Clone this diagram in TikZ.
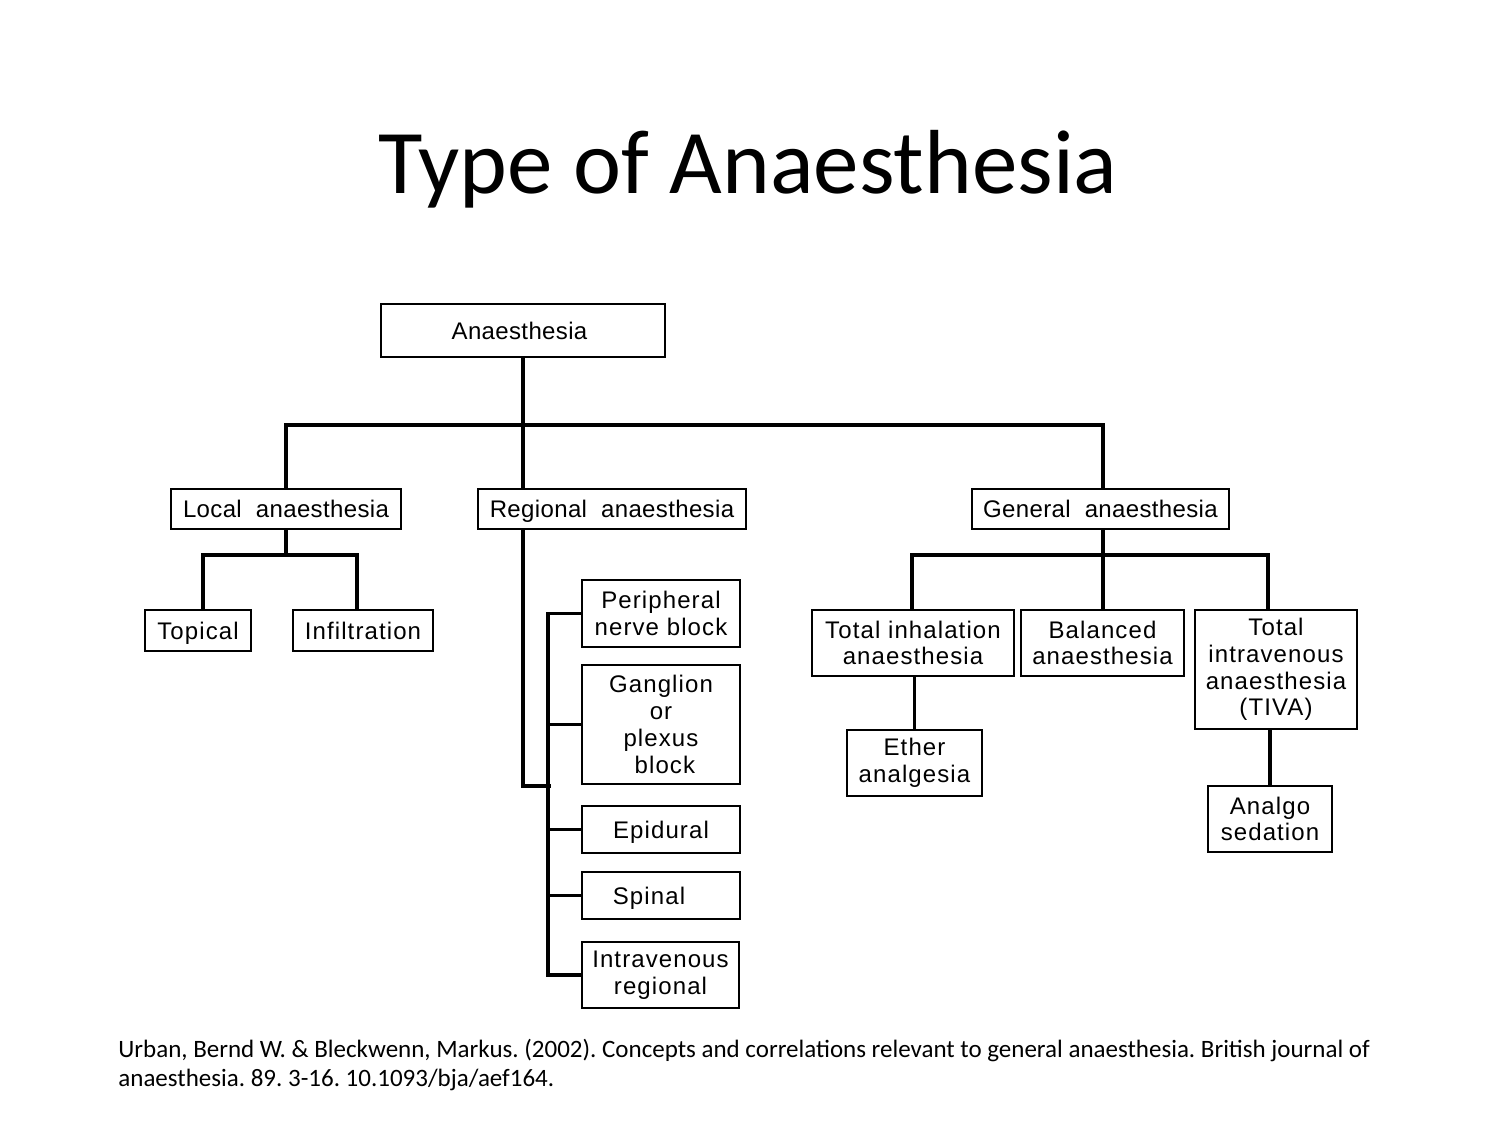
\documentclass[tikz,border=0pt]{standalone}
\usepackage{fontspec}
\setmainfont{Liberation Sans}
\newfontfamily\calib{Carlito}
\newfontfamily\boxfont[LetterSpace=4.6]{Liberation Sans}
\newfontfamily\headfont[LetterSpace=1.5]{Liberation Sans}
\begin{document}
\begin{tikzpicture}[x=0.5pt,y=-0.5pt,
  box/.style={draw=black, line width=1pt, fill=white, inner sep=0pt, align=center,
    font=\boxfont\fontsize{12}{13.4}\selectfont},
  head/.style={font=\headfont\fontsize{12}{13.4}\selectfont},
  single/.style={text height=9pt, text depth=0.4pt},
  conn/.style={draw=black, line width=1.6pt, line cap=rect}]
\useasboundingbox[fill=white] (0,0) rectangle (1500,1125);

% title and citation
\node[anchor=base, inner sep=0pt, font=\calib\fontsize{45.5}{50}\selectfont] (title) at (748,193) {Type of Anaesthesia};
\node[anchor=base west, inner sep=0pt, align=left, font=\calib\fontsize{12.5}{14.5}\selectfont] (cite) at (118,1086)
  {\frenchspacing Urban, Bernd W. \& Bleckwenn, Markus. (2002). Concepts and correlations relevant to general anaesthesia. British journal of\\
   \frenchspacing anaesthesia. 89. 3-16. 10.1093/bja/aef164.};

\coordinate (bar) at (523,425);
\coordinate (lbar) at (286,555);
\coordinate (gbar) at (1103,555);
\coordinate (rturn) at (523,786);

% boxes
\node[box, head, single, minimum width=142pt, minimum height=26.5pt] (anaes) at (523,330.5) {\hspace{-3.5pt}Anaesthesia};
\node[box, head, single, minimum width=115pt, minimum height=20pt] (local) at (286,509) {Local\ \ anaesthesia};
\node[box, head, single, minimum width=134pt, minimum height=20pt] (regional) at (612,509) {Regional\ \ anaesthesia};
\node[box, head, single, minimum width=128.5pt, minimum height=20pt] (general) at (1100.5,509) {General\ \ anaesthesia};

\node[box, single, minimum width=53pt, minimum height=20.5pt] (topical) at (198,630.5) {Topical};
\node[box, single, minimum width=70pt, minimum height=20.5pt] (infil) at (363,630.5) {Infiltration};

\node[box, minimum width=79pt, minimum height=33.5pt] (periph) at (661,613.5) {Peripheral\\nerve block};
\node[box, minimum width=79pt, minimum height=59.5pt] (gang) at (661,724.5) {Ganglion\\or\\plexus\\\ block};
\node[box, single, minimum width=79pt, minimum height=23.5pt] (epi) at (661,829.5) {Epidural};
\node[box, single, minimum width=79pt, minimum height=23.5pt] (spinal) at (661,895.5) {Spinal\hspace{12pt}};
\node[box, minimum width=78.5pt, minimum height=33pt] (ivr) at (660.5,975) {Intravenous\\regional};

\node[box, minimum width=101pt, minimum height=33pt] (inhal) at (913,643) {Total inhalation\\anaesthesia};
\node[box, minimum width=81.5pt, minimum height=33pt] (bal) at (1102.5,643) {Balanced\\anaesthesia};
\node[box, minimum width=81pt, minimum height=59.5pt] (tiva) at (1276,669.5) {Total\\intravenous\\anaesthesia\\(TIVA)};
\node[box, minimum width=67.5pt, minimum height=33pt] (ether) at (914.5,763) {Ether\\analgesia};
\node[box, minimum width=62pt, minimum height=33pt] (analgo) at (1270,819) {Analgo\\sedation};

% root tree
\draw[conn] (anaes.south) -- (bar);
\draw[conn] (local.north) |- (bar) -| ([xshift=1.25pt]general.north);
\draw[conn] (bar) -- (regional.north -| bar);
% regional
\draw[conn] (regional.south -| bar) -- (rturn) -- ++(26,0);
\draw[conn] (periph.west) -- ++(-33,0) |- (ivr.west);
\draw[conn] (gang.west) -- ++(-33,0);
\draw[conn] (epi.west) -- ++(-33,0);
\draw[conn] (spinal.west) -- ++(-33,0);
% local
\draw[conn] (local.south) -- (lbar);
\draw[conn] ([xshift=2.5pt]topical.north) |- (lbar) -| ([xshift=-3pt]infil.north);
% general
\draw[conn] ([xshift=1.25pt]general.south) -- (gbar);
\draw[conn] ([xshift=-0.5pt]inhal.north) |- (gbar) -| ([xshift=-4pt]tiva.north);
\draw[conn] (gbar) -- (bal.north -| gbar);
\draw[conn] (ether.north) -- (ether.north |- inhal.south);
\draw[conn] (analgo.north) -- (analgo.north |- tiva.south);
\end{tikzpicture}
\end{document}
